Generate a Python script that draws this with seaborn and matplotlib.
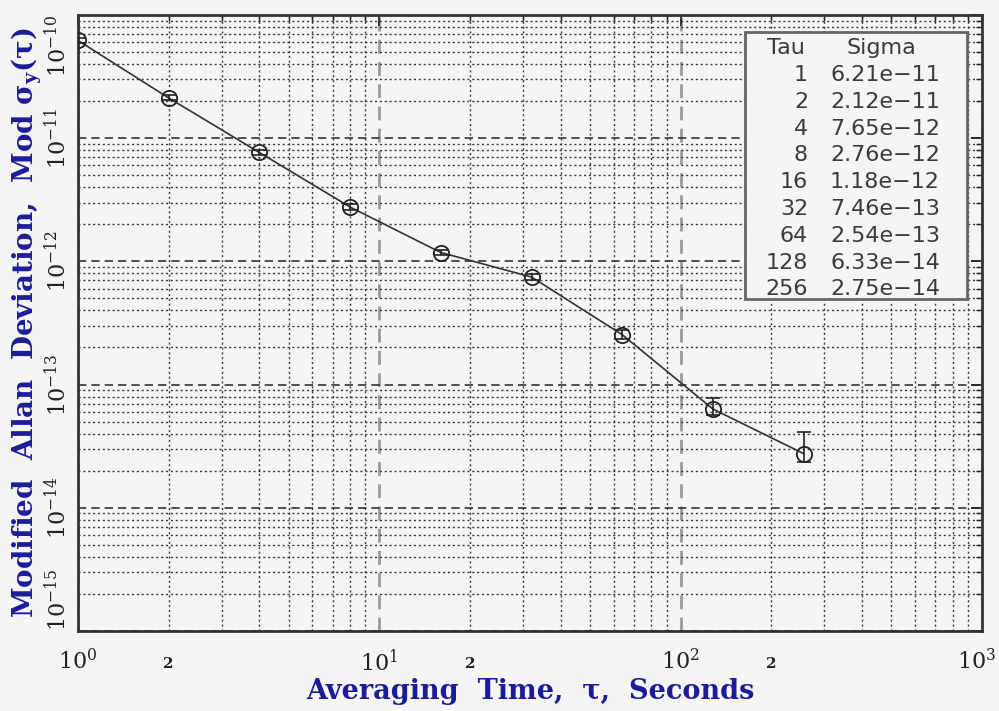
import matplotlib
matplotlib.use("Agg")
import matplotlib.pyplot as plt
import matplotlib.patches as patches
import matplotlib.transforms as mtransforms
from matplotlib.ticker import LogLocator, FuncFormatter, LogFormatterMathtext, NullFormatter
import seaborn as sns
import pandas as pd
import numpy as np

# Tau / Modified Allan deviation values (from the table in the chart)
tau = [1, 2, 4, 8, 16, 32, 64, 128, 256]
sigma = [6.21e-11, 2.12e-11, 7.65e-12, 2.76e-12, 1.18e-12, 7.46e-13, 2.54e-13, 6.33e-14, 2.75e-14]
# error bar bounds
sigma_hi = [6.5e-11, 2.22e-11, 8.0e-12, 2.9e-12, 1.24e-12, 7.9e-13, 2.75e-13, 7.8e-14, 4.15e-14]
sigma_lo = [5.95e-11, 2.03e-11, 7.3e-12, 2.63e-12, 1.12e-12, 7.05e-13, 2.35e-13, 5.7e-14, 2.37e-14]

tau_labels = ["1", "2", "4", "8", "16", "32", "64", "128", "256"]
sigma_labels = ["6.21e\u221211", "2.12e\u221211", "7.65e\u221212", "2.76e\u221212", "1.18e\u221212",
                "7.46e\u221213", "2.54e\u221213", "6.33e\u221214", "2.75e\u221214"]

x_decades = [1, 10, 100, 1000]
y_decades = [1e-15, 1e-14, 1e-13, 1e-12, 1e-11, 1e-10]

bg = "#f5f6f4"
blue = "#1c1c9a"

sns.set_style("white")
plt.rcParams["font.family"] = ["DejaVu Serif", "Liberation Serif"]
plt.rcParams["mathtext.fontset"] = "dejavuserif"
plt.rcParams["mathtext.default"] = "regular"

df = pd.DataFrame({"tau": tau, "sigma": sigma})

fig = plt.figure(figsize=(9.99, 7.11), dpi=100, facecolor=bg)
ax = fig.add_axes([0.078, 0.1125, 0.905, 0.8665])
ax.set_facecolor(bg)

# grid
ax.set_xscale("log")
ax.set_yscale("log")
ax.set_xlim(x_decades[0], x_decades[-1])
ax.set_ylim(y_decades[0], y_decades[-1])
ax.set_xticks(x_decades)
ax.set_yticks(y_decades)
ax.xaxis.set_minor_locator(LogLocator(base=10, subs=np.arange(2, 10), numticks=20))
ax.yaxis.set_minor_locator(LogLocator(base=10, subs=np.arange(2, 10), numticks=20))

ax.xaxis.grid(True, which="major", color="#9a9a9a", ls=(0, (5, 3)), lw=2.0, zorder=0)
ax.yaxis.grid(True, which="major", color="#333333", ls=(0, (5, 3)), lw=1.2, zorder=0)
ax.grid(True, which="minor", color="#3a3a3a", ls=(0, (1.5, 2.0)), lw=1.0, zorder=0)
ax.set_axisbelow(True)

# data line + markers
sns.lineplot(data=df, x="tau", y="sigma", ax=ax, color="#333333", lw=1.2,
             marker="o", markersize=11, markerfacecolor="none",
             markeredgecolor="#222222", markeredgewidth=1.3, zorder=3)
yerr = [np.array(sigma) - np.array(sigma_lo), np.array(sigma_hi) - np.array(sigma)]
ax.errorbar(tau, sigma, yerr=yerr, fmt="none", ecolor="#222222", elinewidth=1.2,
            capsize=5, capthick=1.2, zorder=3)

# ticks
ax.tick_params(which="both", direction="in", top=True, right=True, colors="#222222")
ax.tick_params(which="major", length=8, width=1.2)
ax.tick_params(which="minor", length=4, width=1.0)
ax.tick_params(axis="x", which="major", labelsize=16, pad=13)
ax.tick_params(axis="x", which="minor", labelsize=11, pad=19)
ax.tick_params(axis="y", which="major", labelsize=16, pad=5)

ax.xaxis.set_major_formatter(LogFormatterMathtext())
ax.xaxis.set_minor_formatter(FuncFormatter(
    lambda v, p: "2" if abs(v / 10 ** np.floor(np.log10(v) + 1e-9) - 2) < 1e-6 else ""))
ax.yaxis.set_major_formatter(LogFormatterMathtext())
ax.yaxis.set_minor_formatter(NullFormatter())
for lab in ax.get_xminorticklabels():
    lab.set_fontweight("bold")
for lab in ax.get_yticklabels():
    lab.set_rotation(90)
    lab.set_va("center")

for s in ax.spines.values():
    s.set_color("#333333")
    s.set_linewidth(2)

ax.set_xlabel("Averaging  Time,  \u03c4,  Seconds", fontsize=19.5, fontweight="bold",
              color=blue, labelpad=2)
ax.set_ylabel("Modified  Allan  Deviation,  Mod \u03c3$_{y}$(\u03c4)", fontsize=20,
              fontweight="bold", color=blue, labelpad=0)

# keep the end labels inside the figure
ylabs = ax.get_yticklabels()
ylabs[0].set_va("bottom")
ylabs[-1].set_va("top")
xlabs = ax.get_xticklabels()
xlabs[-1].set_ha("right")
xlabs[-1].set_transform(xlabs[-1].get_transform()
                        + mtransforms.ScaledTranslation(14 / 100, 0, fig.dpi_scale_trans))

# table box
box = patches.Rectangle((745 / 999, 1 - 299 / 711), 222 / 999, 267 / 711,
                        transform=fig.transFigure, facecolor=bg, edgecolor="#666666",
                        lw=2, zorder=5)
fig.patches.append(box)
tfont = dict(family=["DejaVu Sans"], fontsize=16, color="#3a3a3a", zorder=6)
fig.text(786 / 999, 1 - 48 / 711, "Tau", ha="center", va="center", **tfont)
fig.text(881 / 999, 1 - 48 / 711, "Sigma", ha="center", va="center", **tfont)
for i, (t, s) in enumerate(zip(tau_labels, sigma_labels)):
    y = 1 - (75 + i * 26.8) / 711
    fig.text(808 / 999, y, t, ha="right", va="center", **tfont)
    fig.text(830 / 999, y, s, ha="left", va="center", **tfont)

fig.savefig("out.png", dpi=100, facecolor=bg)
